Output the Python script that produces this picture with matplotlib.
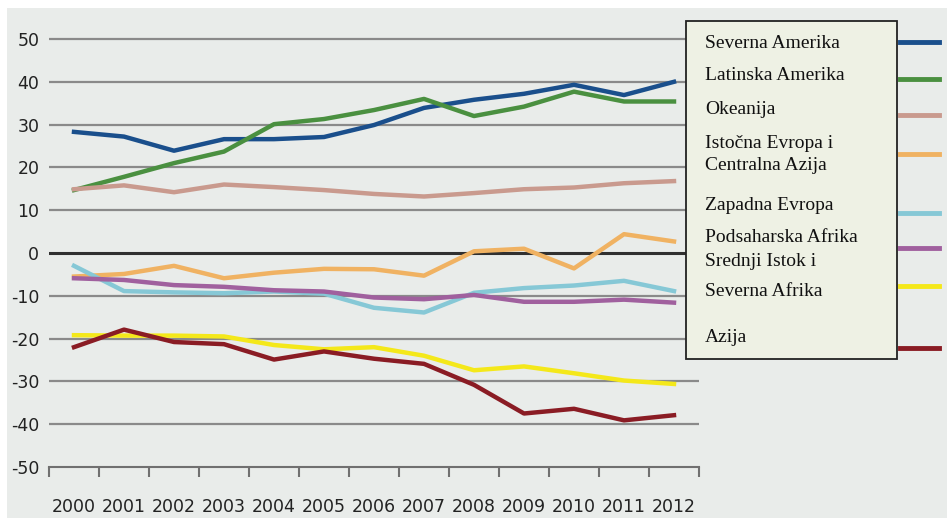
import matplotlib.pyplot as plt
from matplotlib.lines import Line2D
from matplotlib.patches import Rectangle

years = ["2000", "2001", "2002", "2003", "2004", "2005", "2006",
         "2007", "2008", "2009", "2010", "2011", "2012"]

severna_amerika = [28.3, 27.2, 23.9, 26.6, 26.6, 27.1, 29.9, 33.9, 35.8, 37.2, 39.3, 36.9, 40.0]
latinska_amerika = [14.7, 17.8, 21.0, 23.7, 30.1, 31.3, 33.4, 36.0, 32.0, 34.2, 37.7, 35.4, 35.4]
okeanija = [14.9, 15.8, 14.2, 16.0, 15.4, 14.7, 13.8, 13.2, 14.0, 14.9, 15.3, 16.3, 16.8]
istocna_evropa = [-5.5, -4.9, -3.0, -5.9, -4.6, -3.7, -3.8, -5.3, 0.4, 1.0, -3.6, 4.4, 2.7]
zapadna_evropa = [-3.0, -8.9, -9.2, -9.4, -9.0, -9.5, -12.8, -13.9, -9.3, -8.2, -7.6, -6.5, -8.9]
podsaharska = [-5.9, -6.3, -7.5, -7.9, -8.7, -9.0, -10.4, -10.8, -9.8, -11.4, -11.4, -10.9, -11.6]
srednji_istok = [-19.2, -19.3, -19.3, -19.5, -21.5, -22.5, -22.0, -24.0, -27.4, -26.5, -28.1, -29.8, -30.6]
azija = [-22.0, -17.9, -20.8, -21.3, -24.9, -23.0, -24.7, -25.9, -30.8, -37.5, -36.4, -39.1, -37.9]

yticks = [50, 40, 30, 20, 10, 0, -10, -20, -30, -40, -50]

series = [
    (severna_amerika, "#1a4f8c", "Severna Amerika"),
    (latinska_amerika, "#4a9040", "Latinska Amerika"),
    (okeanija, "#c99a8e", "Okeanija"),
    (istocna_evropa, "#f0b262", "Istočna Evropa i\nCentralna Azija"),
    (zapadna_evropa, "#86c8d6", "Zapadna Evropa"),
    (podsaharska, "#a0609e", "Podsaharska Afrika"),
    (srednji_istok, "#f4e81a", "Srednji Istok i\nSeverna Afrika"),
    (azija, "#8a1c24", "Azija"),
]

W, H = 947, 521
fig = plt.figure(figsize=(W / 100, H / 100), dpi=100)
fig.patch.set_facecolor("white")
bg = "#e9ecea"
fig.patches.append(Rectangle((7 / W, 3 / H), 1 - 7 / W, 1 - 11 / H,
                             transform=fig.transFigure, facecolor=bg,
                             edgecolor="none", zorder=0))

# axes in pixel coordinates: x 49..699, y(50)=39, y(-50)=467
px_per = 4.28
top_px = 39 - 2 * px_per
ax = fig.add_axes([49 / W, 1 - 467 / H, 650 / W, (467 - top_px) / H])
ax.set_zorder(2)
ax.set_facecolor("none")
ax.set_ylim(-50, 52)
ax.set_xlim(-0.5, len(years) - 0.5)

for y in yticks:
    if y == -50:
        continue
    ax.axhline(y, color="#303030" if y == 0 else "#8a8a8a",
               lw=2.2 if y == 0 else 1.6, zorder=1)

x = list(range(len(years)))
for vals, col, lab in series:
    ax.plot(x, vals, color=col, lw=3.2, zorder=3, solid_joinstyle="round")

for s in ["top", "right", "left"]:
    ax.spines[s].set_visible(False)
ax.spines["bottom"].set_color("#707070")
ax.spines["bottom"].set_linewidth(1.5)

tick_font = dict(family="DejaVu Sans", size=12.5, color="#222222")
ax.set_yticks(yticks)
ax.set_yticklabels([str(v) if v >= 0 else "-" + str(-v) for v in yticks],
                   **tick_font)
ax.tick_params(axis="y", length=0, pad=7)
ax.set_xticks(x)
ax.set_xticklabels(years, **tick_font)
ax.tick_params(axis="x", which="major", length=0, pad=22)
ax.set_xticks([i - 0.5 for i in range(len(years) + 1)], minor=True)
ax.tick_params(axis="x", which="minor", length=7, width=1.5,
               color="#707070", direction="out")

# legend box
fig.patches.append(Rectangle((686 / W, 1 - 359 / H), 211 / W, 338 / H,
                             transform=fig.transFigure, facecolor="#eef1e4",
                             edgecolor="#222222", lw=1.3, zorder=5))
leg_font = dict(family=["Liberation Serif", "DejaVu Serif"], size=14,
                color="#111111")
text_rows = [
    (43, "Severna Amerika"),
    (76, "Latinska Amerika"),
    (109, "Okeanija"),
    (143, "Istočna Evropa i"),
    (165, "Centralna Azija"),
    (205, "Zapadna Evropa"),
    (238, "Podsaharska Afrika"),
    (262, "Srednji Istok i"),
    (291, "Severna Afrika"),
    (338, "Azija"),
]
for ypx, txt in text_rows:
    fig.text(705 / W, 1 - ypx / H, txt, va="center", ha="left",
             zorder=6, **leg_font)

line_rows = [42, 79, 115, 154, 213, 248, 286, 348]
for ypx, (vals, col, lab) in zip(line_rows, series):
    fig.lines.append(Line2D([900 / W, 939 / W], [1 - ypx / H, 1 - ypx / H],
                            transform=fig.transFigure, color=col, lw=3.5,
                            zorder=6))

fig.savefig("out.png", dpi=100)
